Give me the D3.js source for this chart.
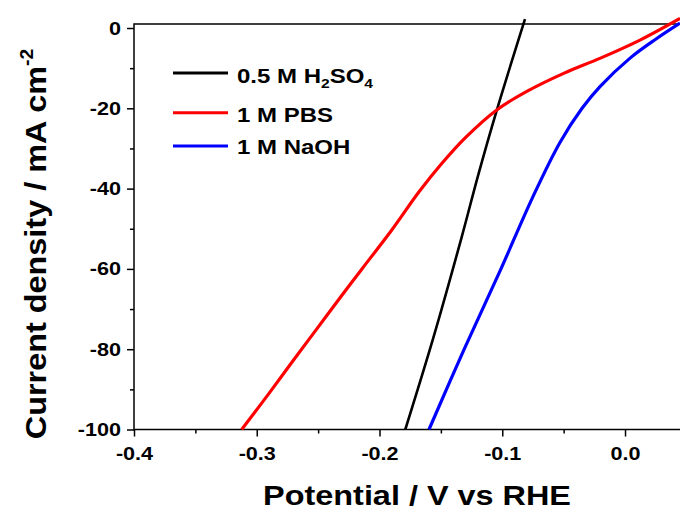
<!DOCTYPE html>
<html>
<head>
<meta charset="utf-8">
<script src="https://cdn.jsdelivr.net/npm/d3@7"></script>
<style>
  html, body { margin: 0; padding: 0; background: #fff; }
  svg { display: block; }
  text { font-family: "Liberation Sans", Arial, sans-serif; font-weight: bold; fill: #000; }
</style>
</head>
<body>
<div id="chart"></div>
<script>
// tick values
var potentialTicks = [-0.4, -0.3, -0.2, -0.1, 0.0]
var potentialMinor = [-0.35, -0.25, -0.15, -0.05]
var currentTicks = [0, -20, -40, -60, -80, -100]
var currentMinor = [-10, -30, -50, -70, -90]

// LSV curves
var h2so4V = [-0.179, -0.156, -0.133, -0.1195, -0.1045, -0.0815]
var h2so4J = [-100, -77, -52, -36.5, -20.5, 2.2]

var pbsV = [-0.3123, -0.29, -0.27, -0.25, -0.23, -0.2143, -0.19, -0.1678, -0.15, -0.13, -0.1045, -0.08, -0.05, -0.02, 0.0122, 0.0448]
var pbsJ = [-100, -91, -82.7, -74.5, -66.3, -60, -50.3, -40.8, -34, -27.3, -20.4, -15.8, -11.3, -7.5, -3.0, 2.4]

var naohV = [-0.1597, -0.131, -0.1018, -0.0747, -0.053, -0.035, -0.0204, 0.0041, 0.025, 0.0448]
var naohJ = [-100, -80, -60.5, -41.8, -28.5, -20, -14.6, -7.5, -2.8, 1.2]

var seriesColors = ['#000000', '#ff0000', '#0000ff']

var W = 680, H = 509
var plotL = 134, plotR = 686.4, plotT = 24, plotB = 429.5
var stretch = 1.2 // labels in the figure are a bit wide

var svg = d3.select('#chart').append('svg')
    .attr('width', W)
    .attr('height', H)
    .attr('viewBox', '0 0 ' + W + ' ' + H)

svg.append('rect').attr('width', W).attr('height', H).attr('fill', '#fff')

var x = d3.scaleLinear().domain([-0.4, 0.05]).range([plotL, plotR])
var y = d3.scaleLinear().domain([-100, 1]).range([plotB, plotT])

// frame
svg.append('rect')
    .attr('x', plotL).attr('y', plotT)
    .attr('width', plotR - plotL).attr('height', plotB - plotT)
    .attr('fill', 'none')
    .attr('stroke', '#000')
    .attr('stroke-width', 1.5)

function fmt(d, f) { return d3.format(f)(d).replace('\u2212', '-') }

// x axis
var xMajor = svg.append('g')
    .attr('transform', 'translate(0,' + plotB + ')')
    .call(d3.axisBottom(x).tickValues(potentialTicks).tickSize(7))
var xMinor = svg.append('g')
    .attr('transform', 'translate(0,' + plotB + ')')
    .call(d3.axisBottom(x).tickValues(potentialMinor).tickSize(4).tickFormat(''))
xMajor.selectAll('.tick text')
    .attr('y', null).attr('dy', null)
    .attr('font-size', 18)
    .attr('fill', '#000')
    .attr('transform', 'translate(0,30.5) scale(' + stretch + ',1)')
    .text(function(d) { return fmt(d, '.1f') })

// y axis
var yMajor = svg.append('g')
    .attr('transform', 'translate(' + plotL + ',0)')
    .call(d3.axisLeft(y).tickValues(currentTicks).tickSize(7))
var yMinor = svg.append('g')
    .attr('transform', 'translate(' + plotL + ',0)')
    .call(d3.axisLeft(y).tickValues(currentMinor).tickSize(4).tickFormat(''))
yMajor.selectAll('.tick text')
    .attr('x', null).attr('dy', null)
    .attr('font-size', 18)
    .attr('fill', '#000')
    .attr('text-anchor', 'end')
    .attr('transform', 'translate(-13,6) scale(' + stretch + ',1)')
    .text(function(d) { return fmt(d, 'd') })

svg.selectAll('.domain').remove()
svg.selectAll('.tick line').attr('stroke', '#000').attr('stroke-width', 1.5)

// curves
var line = d3.line()
    .x(function(d) { return x(d[0]) })
    .y(function(d) { return y(d[1]) })
    .curve(d3.curveCatmullRom.alpha(0.5))

var curves = [
  d3.zip(h2so4V, h2so4J),
  d3.zip(pbsV, pbsJ),
  d3.zip(naohV, naohJ)
]

svg.append('g').attr('class', 'curves')
  .selectAll('path')
  .data(curves)
  .enter().append('path')
    .attr('d', line)
    .attr('fill', 'none')
    .attr('stroke', function(d, i) { return seriesColors[i] })
    .attr('stroke-width', function(d, i) { return i === 0 ? 2.6 : 3.2 })
    .attr('stroke-linejoin', 'round')

// legend
var legendY = [73, 112.7, 146]
var legend = svg.append('g').attr('class', 'legend')
legendY.forEach(function(ly, i) {
  legend.append('line')
      .attr('x1', 173).attr('x2', 228)
      .attr('y1', ly).attr('y2', ly)
      .attr('stroke', seriesColors[i])
      .attr('stroke-width', 3)
})

function legendText(yy) {
  return legend.append('text')
      .attr('font-size', 20)
      .attr('transform', 'translate(237,' + yy + ') scale(' + stretch + ',1)')
}
var t1 = legendText(82.5)
t1.append('tspan').text('0.5 M H')
t1.append('tspan').attr('font-size', 13).attr('dy', 5).text('2')
t1.append('tspan').attr('dy', -5).text('SO')
t1.append('tspan').attr('font-size', 13).attr('dy', 5).text('4')
legendText(121.5).text('1 M PBS')
legendText(153.5).text('1 M NaOH')

// axis titles
svg.append('text')
    .attr('font-size', 27)
    .attr('text-anchor', 'middle')
    .attr('transform', 'translate(417,505) scale(' + stretch + ',1)')
    .text('Potential / V vs RHE')

var yTitle = svg.append('text')
    .attr('font-size', 30)
    .attr('text-anchor', 'middle')
    .attr('transform', 'translate(46,244) rotate(-90) scale(1.08,1)')
yTitle.append('tspan').text('Current density / mA cm')
yTitle.append('tspan').attr('font-size', 18).attr('dy', -13).text('-2')
</script>
</body>
</html>
